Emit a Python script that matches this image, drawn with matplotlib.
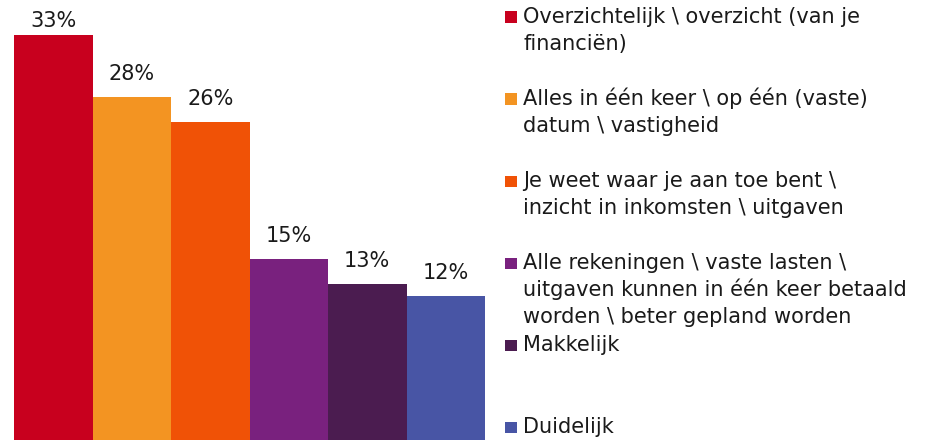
import numpy as np
import matplotlib
matplotlib.use('Agg')
import matplotlib.pyplot as plt
from matplotlib.patches import Rectangle

plt.rcParams['font.family'] = ['DejaVu Sans']

# data
labels = ['Overzichtelijk \\ overzicht (van je\nfinanciën)',
          'Alles in één keer \\ op één (vaste)\ndatum \\ vastigheid',
          'Je weet waar je aan toe bent \\\ninzicht in inkomsten \\ uitgaven',
          'Alle rekeningen \\ vaste lasten \\\nuitgaven kunnen in één keer betaald\nworden \\ beter gepland worden',
          'Makkelijk',
          'Duidelijk']
values = [33, 28, 26, 15, 13, 12]
colors = ['#C8001E', '#F39422', '#F05206', '#79217E', '#4B1C50', '#4855A5']

W, H = 939, 440
fig = plt.figure(figsize=(W / 100, H / 100), dpi=100)

# axes: baseline sits a few px under the image edge
ymax = 36.0
ppu = 12.42                      # px per percent
ax_h = ymax * ppu
ax_bottom = -5.0
ax = fig.add_axes([14 / W, ax_bottom / H, (485 - 14) / W, ax_h / H])
x = np.arange(len(values))
ax.bar(x, values, width=1.0, color=colors, linewidth=0)
ax.set_xlim(-0.5, len(values) - 0.5)
ax.set_ylim(0, ymax)
ax.axis('off')

fs = 15

# value labels (clamped near the top)
gap = 17 / ppu
top_lim = (445 - 27) / ppu
for xi, v in zip(x, values):
    ax.text(xi, min(v + gap, top_lim), f'{v}%', ha='center', va='baseline',
            fontsize=fs, color='#1a1a1a')

# legend drawn by hand, fixed spacing per entry
y0 = 23
step = 82
line_h = 27
for i, (lab, c) in enumerate(zip(labels, colors)):
    yb = y0 + i * step
    fig.patches.append(Rectangle((505 / W, 1 - yb / H), 12 / W, 11.5 / H,
                                 transform=fig.transFigure, color=c, linewidth=0))
    for k, line in enumerate(lab.split('\n')):
        fig.text(523 / W, 1 - (yb + k * line_h) / H, line, ha='left',
                 va='baseline', fontsize=fs, color='#1a1a1a')

fig.savefig('out.png', dpi=100)
